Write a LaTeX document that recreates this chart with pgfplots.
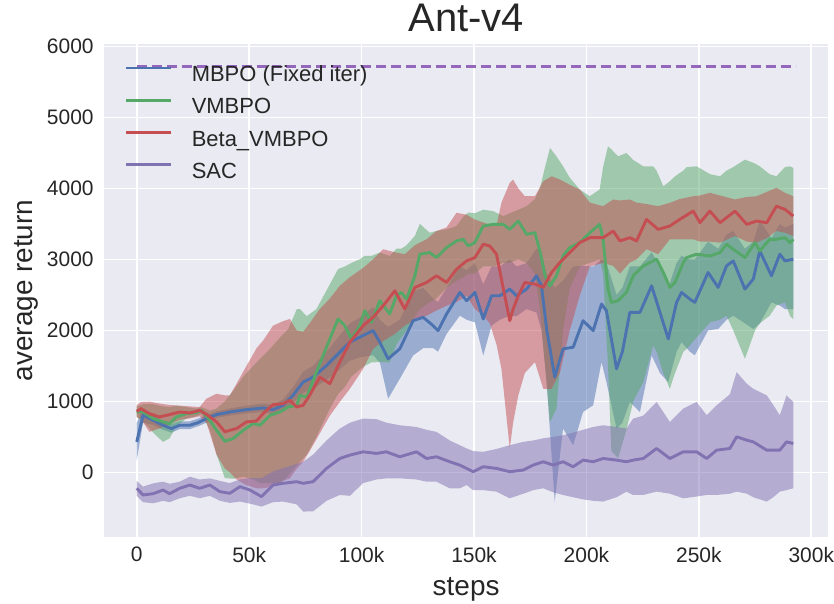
\documentclass[border=0pt]{standalone}
\usepackage{pgfplots}
\pgfplotsset{compat=1.18}
\usepackage{pgfplotstable}
\usepgfplotslibrary{fillbetween}
\usepackage{fontspec}
\setmainfont{Liberation Sans}
\definecolor{bg}{HTML}{EAEAF2}
\definecolor{cblue}{HTML}{4C72B0}
\definecolor{cgreen}{HTML}{55A868}
\definecolor{cred}{HTML}{C44E52}
\definecolor{cpurple}{HTML}{8172B2}
\definecolor{cdash}{HTML}{9467BD}
\definecolor{txt}{HTML}{262626}

\pgfplotstableread{
x m lo hi
0 430 170 700
2.8 805 700 900
7.3 735 670 800
11.7 664 600 730
15.4 617 560 680
19.1 664 610 720
23.6 664 610 720
27.3 701 650 760
31.0 758 700 810
35.5 814 770 860
41.4 851 800 900
48.8 884 830 940
56.2 908 850 970
60.6 884 820 950
65.1 945 860 1030
69.5 1085 980 1200
74.0 1272 1120 1420
78.4 1342 1180 1500
84.4 1505 1300 1700
90.3 1693 1450 1930
94.8 1834 1570 2100
99.2 1904 1620 2180
105.1 1997 1650 2330
108.1 1834 1553 2150
111.8 1600 1038 2050
117.0 1740 1319 2150
122.9 2137 1646 2550
127.4 2184 1750 2600
131.8 2067 1750 2450
134.0 1997 1700 2400
137.8 2231 1950 2600
143.7 2535 2207 2900
146.7 2418 2150 2850
150.4 2535 2114 2950
154.1 2161 1646 2650
157.8 2488 2067 2900
161.5 2488 2150 2900
165.9 2582 2207 3000
168.9 2488 2200 2900
173.4 2582 2301 2950
177.8 2769 2250 3150
180.0 2628 2000 3100
182.3 2020 1272 2800
185.9 1342 -412 2600
189.6 1740 617 2700
194.1 1763 383 2900
198.5 2137 851 2909
203.0 1997 945 2900
206.7 2371 1553 3000
208.9 2277 1272 2950
213.4 1459 617 2500
216.0 1700 700 2600
219.3 2254 992 2900
223.8 2254 851 2900
229.0 2628 1646 3100
232.7 2254 1400 2900
236.4 1880 1272 2600
240.1 2395 1700 2950
242.3 2535 1834 3050
246.0 2441 1700 3000
248.2 2395 1650 3000
254.1 2816 2000 3250
258.6 2605 2020 3150
262.3 2909 2150 3350
265.3 2979 2207 3400
270.5 2582 2100 3150
274.2 2722 2020 3250
277.1 3119 2100 3550
282.3 2769 2395 3300
286.0 3073 2350 3500
288.3 2979 2300 3450
292.0 3002 2301 3500
}\tblue

\pgfplotstableread{
x m lo hi
0 851 780 930
2.8 851 720 960
7.3 758 560 960
11.7 711 430 930
14.6 688 480 920
17.6 781 650 940
22.1 828 760 920
26.5 842 790 900
28.8 874 820 920
32.5 734 600 870
35.5 593 250 900
39.2 439 -80 1000
42.9 477 -90 1150
47.4 593 -60 1350
51.8 687 -100 1500
54.8 664 -150 1600
59.3 804 -150 1740
63.7 851 -150 1900
67.4 921 -50 2020
71.2 945 100 2300
72.6 1085 150 2300
75.6 1062 250 2200
79.9 1412 500 2300
85.9 1880 900 2650
89.5 2161 1100 2862
92.5 2067 1200 2900
95.5 1880 1350 2950
99.2 2067 1450 3002
101.4 2277 1500 3050
104.4 2114 1550 3050
108.1 2418 1553 3096
112.5 2231 1550 3050
115.5 2488 1800 3150
117.7 2535 1900 3150
120.0 2441 2000 3200
123.7 2769 2200 3330
125.9 3073 2300 3500
130.3 3096 2400 3376
133.3 3026 2450 3400
137.8 3167 2600 3423
142.2 3260 2700 3470
145.2 3283 2750 3600
147.4 3190 2800 3660
150.4 3236 2800 3650
154.1 3470 2900 3700
158.5 3494 2900 3680
163.0 3494 2950 3610
165.9 3423 2950 3650
169.7 3540 3000 3700
173.4 3353 2950 3750
177.1 3376 2800 3850
179.3 3119 2300 4000
181.6 2769 1500 4300
183.8 2628 710 4570
186.7 2769 900 4450
189.6 3049 2000 4311
192.6 3167 2600 4150
197.0 3236 2900 3985
201.5 3376 2950 3890
205.9 3494 3000 3985
207.4 3283 2800 4300
209.6 2582 1500 4592
211.1 2395 300 4550
214.1 2418 200 4452
217.8 2535 600 4499
220.8 2769 1000 4400
225.3 2909 1272 4311
229.7 2979 1786 4311
231.2 3003 1700 4250
234.2 2816 1400 4031
237.1 2605 1178 4100
239.4 2675 1400 4171
243.1 2956 1700 4250
244.6 3026 1740 4300
249.0 3073 1900 4311
255.0 3049 2114 4200
259.4 3096 2150 4171
262.3 3213 2207 4250
265.3 3143 2000 4300
270.5 3026 1600 4405
275.0 3236 2000 4350
277.1 3119 2100 4311
281.5 3283 2207 4200
284.5 3283 2350 4171
288.3 3306 2395 4300
290.6 3236 2200 4311
292.0 3283 2160 4288
}\tgreen

\pgfplotstableread{
x m lo hi
0 860 780 950
1.9 898 750 990
5.6 828 571 996
10.1 781 620 970
14.6 814 680 950
19.1 851 740 940
23.6 837 760 930
28.0 874 790 921
31.0 818 700 1038
35.5 711 250 1108
39.2 571 56 1085
41.4 593 0 1085
44.4 617 -100 1250
48.8 711 -180 1500
53.3 725 -224 1750
56.2 828 -224 1857
60.6 954 -200 2067
65.1 968 -120 2130
68.1 1015 -84 2161
71.1 921 50 2000
74.0 945 150 1980
76.9 1085 300 2100
81.4 1342 550 2300
85.9 1249 800 2450
90.3 1553 992 2628
94.8 1834 1178 2750
100.7 2067 1459 2880
105.1 2184 1740 3000
109.6 2348 1850 3143
114.8 2558 1950 3100
119.2 2301 2067 3073
123.7 2605 2150 3200
128.9 2675 2207 3283
133.3 2769 2280 3400
137.8 2675 2348 3450
142.2 2862 2400 3657
146.7 2979 2488 3630
150.4 3026 2300 3560
154.1 3213 2207 3520
157.0 3190 2100 3490
160.0 3073 1800 3470
162.2 2722 1459 3800
165.9 2137 337 4078
167.4 2300 700 4125
169.7 2488 1085 4000
172.6 2675 1400 3890
177.1 2652 1553 3890
180.8 2605 1178 4100
184.5 2816 1178 4171
188.2 2956 1400 4125
192.6 3096 2000 4050
197.0 3236 2488 3985
201.5 3306 2900 3800
207.4 3306 2950 3750
211.9 3400 2909 3844
214.9 3260 2800 3830
219.3 3306 2956 3844
222.3 3260 3000 3800
226.7 3564 3143 3780
231.9 3423 3073 3750
237.1 3470 3283 3797
241.5 3564 3283 3850
247.5 3680 3283 3890
250.5 3517 3250 3900
254.9 3680 3250 3938
259.4 3517 3236 3900
266.1 3680 3330 3844
271.3 3494 3250 3880
275.7 3540 3236 3890
280.2 3517 3300 3950
284.5 3750 3400 4008
288.3 3704 3376 3938
292.0 3610 3330 3890
}\tred

\pgfplotstableread{
x m lo hi
0 -224 -330 -120
2.8 -318 -420 -200
7.3 -300 -435 -154
11.7 -248 -400 -130
14.6 -300 -420 -160
19.1 -224 -364 -131
23.6 -178 -330 -60
28.0 -224 -364 -100
32.5 -178 -330 -84
37.0 -271 -400 -120
41.4 -294 -430 -150
45.9 -201 -411 -100
50.3 -248 -440 -80
55.5 -341 -481 -80
60.6 -178 -420 14
65.1 -154 -411 60
71.1 -131 -450 120
74.0 -154 -551 150
78.4 -131 -550 250
84.4 56 -400 450
90.3 196 -318 617
94.8 243 -330 700
100.7 290 -150 758
106.6 267 -100 750
111.0 290 -84 700
117.0 220 -84 664
124.4 290 -100 640
128.9 196 -131 600
133.3 220 -131 571
139.2 150 -224 450
143.7 103 -224 383
146.7 56 -178 337
149.6 10 -250 300
154.1 80 -250 290
160.0 56 -271 330
165.9 10 -365 383
171.9 33 -300 430
176.3 103 -250 450
180.8 150 -224 480
185.2 103 -280 500
189.6 150 -318 524
194.1 80 -350 560
198.5 173 -380 600
203.0 150 -400 640
207.4 196 -411 664
213.4 173 -350 640
217.8 150 -271 617
220.8 173 -318 758
225.3 196 -318 800
231.2 337 -271 992
237.1 196 -300 711
243.1 290 -365 900
249.0 290 -340 992
253.5 196 -318 805
257.9 313 -318 945
263.8 337 -300 1100
266.8 501 -271 1412
271.3 454 -300 1250
274.2 430 -350 1178
280.2 313 -411 1085
283.1 313 -350 950
286.0 313 -271 805
289.0 430 -250 1085
292.0 407 -224 992
}\tsac

\begin{document}
\begin{tikzpicture}
\begin{axis}[
  width=726bp, height=494bp, scale only axis,
  xmin=-14.65, xmax=307.65, ymin=-910, ymax=6035,
  axis background/.style={fill=bg},
  axis line style={draw=none},
  major tick length=0pt,
  grid=major, major grid style={white, line width=1.6bp},
  xtick={0,50,100,150,200,250,300},
  xticklabels={0,50k,100k,150k,200k,250k,300k},
  ytick={0,1000,2000,3000,4000,5000,6000},
  yticklabels={0,1000,2000,3000,4000,5000,6000},
  tick label style={font=\fontsize{21bp}{21bp}\selectfont, text=txt, inner sep=0pt},
  xticklabel style={anchor=north, yshift=-10bp},
  yticklabel style={anchor=east, xshift=-10bp},
  title={Ant-v4},
  title style={font=\fontsize{40bp}{40bp}\selectfont, text=txt, at={(axis description cs:0.5,1.0121)}, anchor=base, inner sep=0pt},
  xlabel={steps},
  xlabel style={font=\fontsize{28bp}{28bp}\selectfont, text=txt, at={(axis description cs:0.5,-0.1194)}, anchor=base, inner sep=0pt},
  ylabel={average return},
  ylabel style={font=\fontsize{28bp}{28bp}\selectfont, text=txt, at={(axis description cs:-0.0978,0.5)}, anchor=base, inner sep=0pt},
  legend style={at={(axis description cs:0.029,0.956)}, anchor=north west, draw=none, fill=none, inner sep=0pt, row sep=11.2bp, font=\fontsize{22bp}{22bp}\selectfont, text=txt, nodes={inner sep=0pt, text height=16bp, text depth=5bp}},
  legend cell align=left,
  legend image code/.code={\draw[#1] (0bp,8.3bp) -- (45bp,8.3bp); \path (64bp,0bp);},
  every axis plot/.append style={line join=round},
]
% MBPO
\addplot[name path=bh, draw=none, forget plot] table[x=x,y=hi]{\tblue};
\addplot[name path=bl, draw=none, forget plot] table[x=x,y=lo]{\tblue};
\addplot[fill=cblue, fill opacity=0.5, draw=none, forget plot] fill between[of=bh and bl];
\addplot[cblue, line width=2.9bp] table[x=x,y=m]{\tblue};
% VMBPO
\addplot[name path=gh, draw=none, forget plot] table[x=x,y=hi]{\tgreen};
\addplot[name path=gl, draw=none, forget plot] table[x=x,y=lo]{\tgreen};
\addplot[fill=cgreen, fill opacity=0.5, draw=none, forget plot] fill between[of=gh and gl];
\addplot[cgreen, line width=2.9bp] table[x=x,y=m]{\tgreen};
% Beta_VMBPO
\addplot[name path=rh, draw=none, forget plot] table[x=x,y=hi]{\tred};
\addplot[name path=rl, draw=none, forget plot] table[x=x,y=lo]{\tred};
\addplot[fill=cred, fill opacity=0.5, draw=none, forget plot] fill between[of=rh and rl];
\addplot[cred, line width=2.9bp] table[x=x,y=m]{\tred};
% SAC
\addplot[name path=sh, draw=none, forget plot] table[x=x,y=hi]{\tsac};
\addplot[name path=sl, draw=none, forget plot] table[x=x,y=lo]{\tsac};
\addplot[fill=cpurple, fill opacity=0.5, draw=none, forget plot] fill between[of=sh and sl];
\addplot[cpurple, line width=2.9bp] table[x=x,y=m]{\tsac};
% reference
\addplot[cdash, line width=2.5bp, dash pattern=on 10bp off 5bp, forget plot] coordinates {(0,5720) (293,5720)};
\legend{MBPO (Fixed iter),VMBPO,Beta\_VMBPO,SAC}
\end{axis}
\path (-104bp,-67bp) rectangle (730bp,538bp);
\end{tikzpicture}
\end{document}
